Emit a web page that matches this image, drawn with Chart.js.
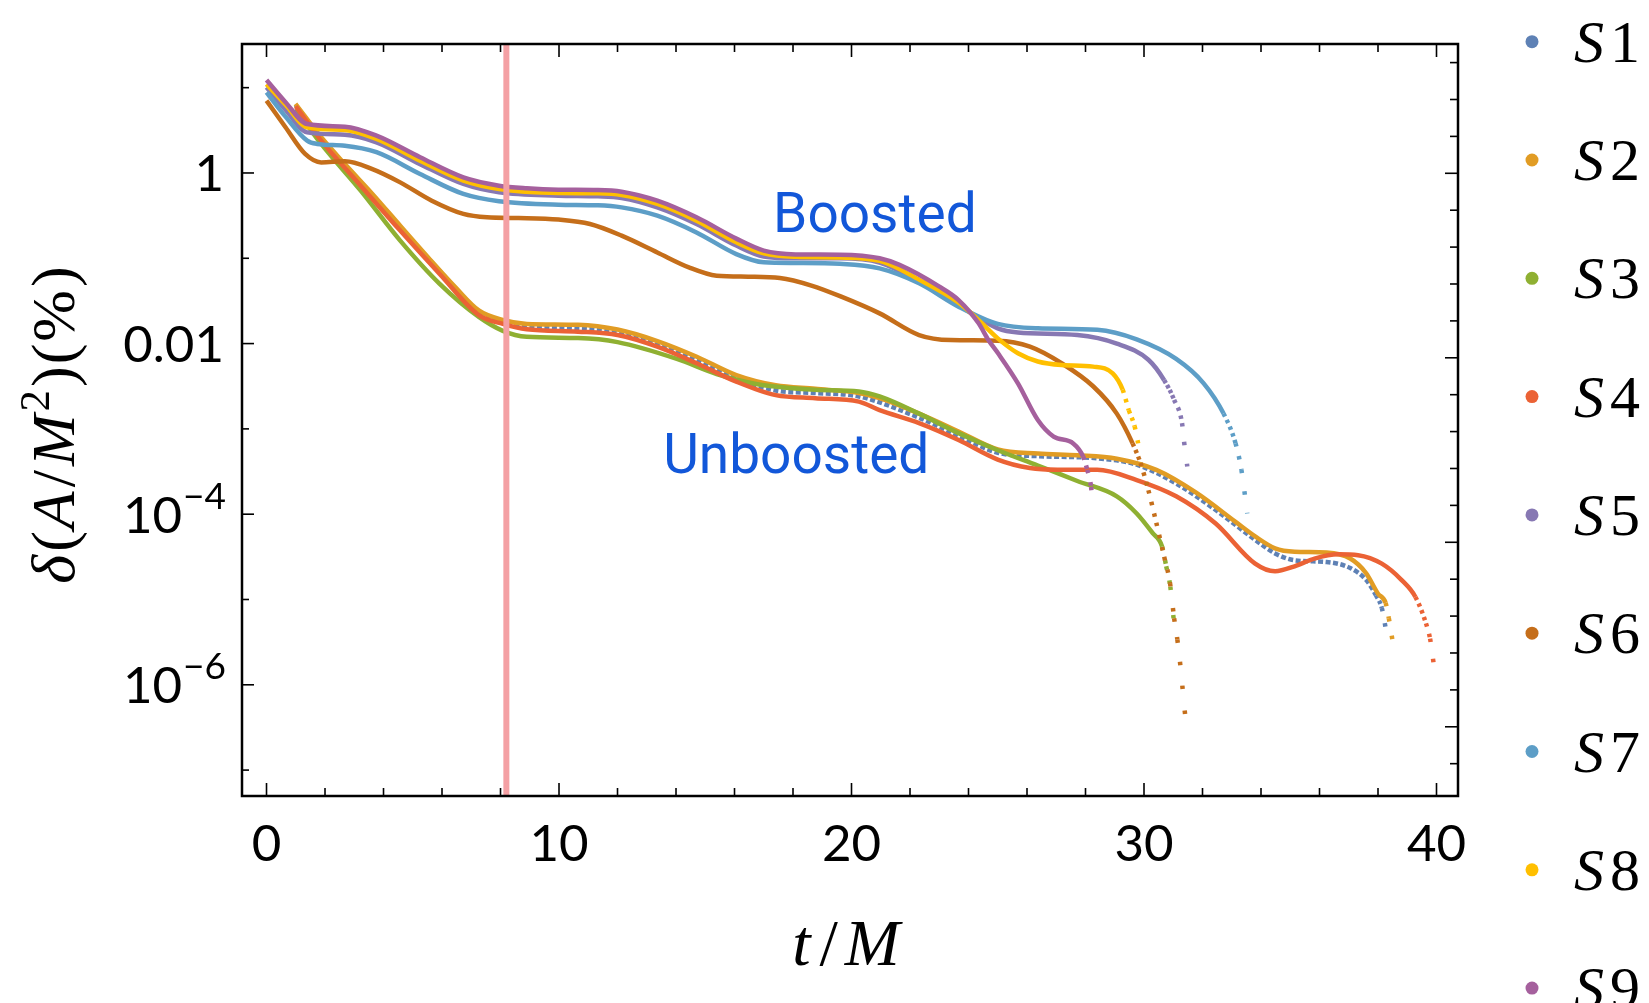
<!DOCTYPE html>
<html>
<head>
<meta charset="utf-8">
<script src="https://cdn.jsdelivr.net/npm/chart.js@4.4.1/dist/chart.umd.min.js"></script>
<style>
  html, body { margin: 0; padding: 0; background: #fff; }
  #wrap { width: 1649px; height: 1003px; }
</style>
</head>
<body>
<div id="wrap"><canvas id="chart" width="1649" height="1003"></canvas></div>
<script>
// series names / colours
const seriesNames = ["S1", "S2", "S3", "S4", "S5", "S6", "S7", "S8", "S9"];
const seriesColors = ["#5E81B5", "#E19C24", "#8FB032", "#EB6235", "#8778B3", "#C56E1A", "#5D9EC7", "#FFBF00", "#A5609D"];

// unboosted
const tS1 = [1.0, 1.87, 3.22, 4.57, 5.92, 7.27, 8.08, 8.9, 10.65, 12.0, 13.36, 14.71, 16.06, 17.41, 18.76, 20.25, 22.31, 23.66, 25.0, 26.37, 28.4, 29.75, 31.1, 32.45, 33.8, 34.48, 35.15, 36.24, 37.05, 37.59, 37.93, 38.13, 38.29];
const vS1 = [6.24, 2.51, 0.759, 0.229, 0.0708, 0.0229, 0.0178, 0.0158, 0.0151, 0.0135, 0.01, 0.00646, 0.00389, 0.00282, 0.00263, 0.0024, 0.00135, 8.32e-4, 5.25e-4, 4.79e-4, 4.52e-4, 3.80e-4, 2.29e-4, 1.12e-4, 5.01e-5, 3.47e-5, 2.88e-5, 2.75e-5, 2.34e-5, 1.70e-5, 1.12e-5, 7.94e-6, 4.07e-6];

const tS2 = [0.99, 1.87, 2.68, 3.62, 4.57, 5.52, 6.46, 7.27, 8.08, 8.9, 10.65, 12.0, 13.36, 14.71, 16.06, 17.41, 18.76, 20.25, 20.96, 22.31, 23.66, 25.0, 26.37, 27.72, 29.07, 30.42, 31.77, 33.13, 33.8, 34.48, 35.15, 36.24, 37.05, 37.59, 38.0, 38.26, 38.37, 38.51];
const vS2 = [6.46, 2.62, 1.27, 0.568, 0.241, 0.103, 0.0457, 0.0243, 0.0189, 0.0170, 0.0166, 0.0146, 0.0107, 0.0070, 0.00427, 0.00324, 0.00295, 0.00263, 0.00229, 0.00151, 9.33e-4, 5.75e-4, 5.13e-4, 4.90e-4, 4.47e-4, 3.31e-4, 1.80e-4, 8.13e-5, 5.50e-5, 3.98e-5, 3.63e-5, 3.55e-5, 3.02e-5, 2.04e-5, 1.17e-5, 9.12e-6, 6.03e-6, 3.09e-6];

const tS3 = [1.0, 1.87, 3.22, 4.57, 5.92, 7.27, 8.08, 8.9, 10.65, 12.0, 14.03, 15.39, 16.74, 18.76, 20.25, 20.96, 22.31, 23.66, 25.0, 26.37, 27.72, 29.07, 29.75, 30.29, 30.62, 30.76, 30.9, 31.02];
const vS3 = [5.62, 2.19, 0.621, 0.161, 0.0501, 0.0204, 0.0141, 0.0120, 0.0116, 0.0104, 0.00661, 0.00440, 0.00336, 0.00288, 0.00275, 0.0024, 0.00151, 8.91e-4, 5.62e-4, 3.72e-4, 2.45e-4, 1.62e-4, 1.02e-4, 6.03e-5, 4.17e-5, 2.45e-5, 1.41e-5, 5.62e-6];

const tS4 = [1.0, 1.87, 3.22, 4.57, 5.92, 7.27, 8.08, 8.9, 10.65, 12.0, 13.36, 14.71, 16.06, 17.41, 18.76, 20.25, 20.96, 22.31, 23.66, 25.0, 26.1, 27.04, 28.4, 29.75, 31.1, 32.45, 33.8, 34.48, 35.15, 35.83, 36.64, 37.32, 38.13, 38.8, 39.28, 39.64, 39.78, 39.91];
const vS4 = [6.03, 2.40, 0.710, 0.211, 0.0655, 0.0214, 0.0170, 0.0147, 0.0138, 0.0126, 0.0092, 0.00587, 0.00358, 0.00249, 0.00229, 0.00209, 0.00166, 0.00117, 7.41e-4, 4.37e-4, 3.47e-4, 3.31e-4, 3.31e-4, 2.51e-4, 1.62e-4, 7.76e-5, 2.63e-5, 2.14e-5, 2.45e-5, 3.02e-5, 3.39e-5, 3.31e-5, 2.63e-5, 1.70e-5, 1.07e-5, 5.25e-6, 3.47e-6, 1.70e-6];

// boosted
const tS5 = [0, 0.65, 1.39, 2.68, 3.76, 5.25, 6.73, 7.95, 9.98, 11.33, 12.14, 13.36, 14.7, 16.06, 17.0, 18.09, 19.6, 20.96, 22.31, 23.66, 25.0, 25.69, 27.72, 29.07, 30.15, 30.69, 31.03, 31.3, 31.37, 31.48];
const vS5 = [10.1, 5.50, 2.99, 2.81, 2.29, 1.27, 0.743, 0.593, 0.542, 0.532, 0.509, 0.395, 0.252, 0.141, 0.105, 0.1, 0.1, 0.0891, 0.0537, 0.0282, 0.0151, 0.0135, 0.0126, 0.01, 0.00646, 0.00372, 0.00219, 0.00117, 7.08e-4, 3.63e-4];

const tS6 = [0, 0.65, 1.32, 1.87, 2.68, 3.62, 4.57, 5.65, 6.73, 7.54, 8.62, 9.98, 11.06, 12.14, 13.36, 14.44, 15.39, 16.47, 17.55, 18.63, 19.65, 20.96, 22.31, 23.39, 25.0, 26.1, 27.18, 28.26, 29.07, 29.61, 29.88, 30.15, 30.42, 30.69, 30.89, 31.03, 31.14, 31.23, 31.31, 31.39, 31.48];
const vS6 = [7.05, 3.43, 1.67, 1.33, 1.37, 1.11, 0.776, 0.473, 0.331, 0.302, 0.296, 0.284, 0.252, 0.184, 0.117, 0.0783, 0.0625, 0.0608, 0.0587, 0.0479, 0.0355, 0.0226, 0.0126, 0.0110, 0.0108, 0.0092, 0.00589, 0.00316, 0.00151, 6.76e-4, 3.98e-4, 1.91e-4, 7.94e-5, 3.16e-5, 1.55e-5, 6.03e-6, 3.39e-6, 1.86e-6, 9.77e-7, 5.01e-7, 2.95e-7];

const tS7 = [0, 0.65, 1.39, 1.73, 2.68, 3.76, 5.25, 6.73, 7.95, 9.98, 11.33, 12.14, 13.36, 14.7, 16.06, 17.0, 18.09, 19.6, 20.96, 22.31, 23.66, 25.0, 26.37, 28.4, 29.75, 31.1, 32.04, 32.72, 33.13, 33.33, 33.53];
const vS7 = [8.81, 4.57, 2.39, 2.19, 2.09, 1.75, 0.973, 0.568, 0.466, 0.425, 0.418, 0.395, 0.316, 0.201, 0.112, 0.0897, 0.0881, 0.0861, 0.0762, 0.0509, 0.0271, 0.0170, 0.0151, 0.0145, 0.0112, 0.00661, 0.00342, 0.00151, 6.76e-4, 3.31e-4, 1.02e-4];

const tS8 = [0, 0.65, 1.39, 2.68, 3.76, 5.25, 6.73, 7.95, 9.98, 11.33, 12.14, 13.36, 14.7, 16.06, 17.0, 18.09, 19.6, 20.96, 22.31, 23.66, 24.34, 25.0, 25.69, 26.37, 27.18, 28.26, 28.93, 29.27, 29.48, 29.68, 29.8];
const vS8 = [11.0, 6.31, 3.43, 3.19, 2.50, 1.39, 0.813, 0.649, 0.582, 0.577, 0.552, 0.433, 0.276, 0.154, 0.114, 0.104, 0.102, 0.0933, 0.0562, 0.0302, 0.0189, 0.0115, 0.00769, 0.00617, 0.00562, 0.00537, 0.00447, 0.00288, 0.00166, 0.00107, 6.76e-4];

const tS9 = [0, 0.65, 1.39, 2.68, 3.76, 5.25, 6.73, 7.95, 8.9, 9.98, 11.33, 12.14, 13.36, 14.7, 16.06, 17.0, 18.09, 19.6, 20.96, 21.64, 22.99, 23.66, 24.34, 24.68, 25.01, 25.69, 26.37, 26.91, 27.58, 27.92, 28.06, 28.19, 28.26];
const vS9 = [12.3, 6.76, 3.75, 3.49, 2.74, 1.53, 0.889, 0.71, 0.661, 0.637, 0.631, 0.603, 0.473, 0.302, 0.17, 0.123, 0.111, 0.110, 0.1, 0.0836, 0.0468, 0.0324, 0.0174, 0.011, 0.00769, 0.00342, 0.00127, 8.13e-4, 6.76e-4, 4.73e-4, 3.31e-4, 2.09e-4, 1.12e-4];

const seriesT = [tS1, tS2, tS3, tS4, tS5, tS6, tS7, tS8, tS9];
const seriesV = [vS1, vS2, vS3, vS4, vS5, vS6, vS7, vS8, vS9];

// vertical marker and the two group labels
const markerT = 8.2;
const yMajor = [1, 0.01, 1e-4, 1e-6];
const yMinor = [10, 0.1, 1e-3, 1e-5, 1e-7];
const yLabels = ["1", "0.01", "10|-4", "10|-6"];
const xTicks = [0, 2, 4, 6, 8, 10, 12, 14, 16, 18, 20, 22, 24, 26, 28, 30, 32, 34, 36, 38, 40];
const groupNotes = [
    { text: "Boosted", t: 17.32, v: 0.203 },
    { text: "Unboosted", t: 13.56, v: 3.07e-4 }
];

const TICK_FONT = "Lato, 'Open Sans', sans-serif";
const SERIF = "'Liberation Serif', 'DejaVu Serif', serif";

const datasets = seriesNames.map((name, i) => ({
    label: name,
    data: seriesT[i].map((t, k) => ({ x: t, y: seriesV[i][k] })),
    borderColor: seriesColors[i],
    backgroundColor: seriesColors[i],
    borderWidth: 4.5,
    borderCapStyle: "butt",
    borderDash: name === "S1" ? [5, 2.5] : [],
    pointRadius: 0,
    cubicInterpolationMode: "monotone",
    order: 10 - i,
    segment: {
        // sparse-looking dotted tails where the curves plunge
        borderDash: ctx => {
            const dx = Math.abs(ctx.p1.x - ctx.p0.x);
            const dy = Math.abs(ctx.p1.y - ctx.p0.y);
            const s = dy / Math.max(dx, 0.01);
            return s > 1.9 ? [3.5, Math.max(2, 2.9 * s - 3.5)] : undefined;
        }
    }
}));

datasets.push({
    label: "marker",
    data: [{ x: markerT, y: 1e-9 }, { x: markerT, y: 1e3 }],
    borderColor: "#F4A0A4",
    borderWidth: 6,
    pointRadius: 0,
    order: 0
});

const framePlugin = {
    id: "framePlugin",
    afterDraw(chart) {
        const { ctx, chartArea: a } = chart;
        const xs = chart.scales.x, ys = chart.scales.y, yr = chart.scales.yRight;
        ctx.save();

        // inward frame ticks
        ctx.strokeStyle = "#000";
        ctx.lineWidth = 1.6;
        const seg = (x0, y0, x1, y1) => { ctx.beginPath(); ctx.moveTo(x0, y0); ctx.lineTo(x1, y1); ctx.stroke(); };
        xs.ticks.forEach(tk => {
            const px = xs.getPixelForValue(tk.value);
            const len = tk.value % 10 === 0 ? 13 : 8;
            seg(px, a.bottom, px, a.bottom - len);
            seg(px, a.top, px, a.top + len);
        });
        yMajor.forEach(v => { const py = ys.getPixelForValue(v); seg(a.left, py, a.left + 12, py); });
        yMinor.forEach(v => { const py = ys.getPixelForValue(v); seg(a.left, py, a.left + 7, py); });
        yr.ticks.forEach(tk => {
            const py = yr.getPixelForValue(tk.value);
            if (py < a.top + 2 || py > a.bottom - 2) return;
            const len = tk.value % 5 === 0 ? 13 : 8;
            seg(a.right, py, a.right - len, py);
        });

        ctx.lineWidth = 2.5;
        ctx.strokeRect(a.left, a.top, a.right - a.left, a.bottom - a.top);

        // y tick labels with superscripts
        ctx.fillStyle = "#000";
        ctx.textBaseline = "alphabetic";
        ctx.textAlign = "right";
        yMajor.forEach((v, i) => {
            const py = ys.getPixelForValue(v);
            const parts = yLabels[i].split("|");
            const right = a.left - 16;
            if (parts.length === 1) {
                ctx.font = "51px " + TICK_FONT;
                ctx.fillText(parts[0], right - 2, py + 18.5);
            } else {
                ctx.font = "37px " + TICK_FONT;
                const supText = "\u2212" + parts[1].replace("-", "");
                const supW = ctx.measureText(supText).width;
                ctx.fillText(supText, right, py + 18.5 - 24);
                ctx.font = "51px " + TICK_FONT;
                ctx.fillText(parts[0], right - supW - 1, py + 18.5);
            }
        });

        // group notes
        ctx.textAlign = "left";
        ctx.fillStyle = "#1257D9";
        ctx.font = "55px Roboto, 'Noto Sans', sans-serif";
        groupNotes.forEach(n => {
            ctx.fillText(n.text, xs.getPixelForValue(n.t), ys.getPixelForValue(n.v));
        });

        // axis titles
        ctx.fillStyle = "#000";
        const drawRuns = (runs, cx, baseY) => {
            let total = 0;
            runs.forEach(r => { ctx.font = r.font; r.w = ctx.measureText(r.s).width + (r.gap || 0); total += r.w; });
            let x = cx - total / 2;
            runs.forEach(r => { ctx.font = r.font; ctx.fillText(r.s, x, baseY - (r.up || 0)); x += r.w; });
        };
        const it = sz => "italic " + sz + "px " + SERIF;
        const rm = sz => sz + "px " + SERIF;
        ctx.textAlign = "left";
        drawRuns([
            { s: "t", font: it(66), gap: 9 },
            { s: "/", font: rm(66), gap: 7 },
            { s: "M", font: it(66) }
        ], 846, 965);

        ctx.save();
        ctx.translate(74, 425);
        ctx.rotate(-Math.PI / 2);
        drawRuns([
            { s: "\u03B4", font: it(62), gap: 3 },
            { s: "(", font: rm(62), gap: 2 },
            { s: "A", font: it(62), gap: 4 },
            { s: "/", font: rm(62), gap: 4 },
            { s: "M", font: it(62), gap: 3 },
            { s: "2", font: rm(43), up: 25, gap: 3 },
            { s: ")", font: rm(62), gap: 2 },
            { s: "(", font: rm(62), gap: 2 },
            { s: "%", font: rm(62), gap: 3 },
            { s: ")", font: rm(62) }
        ], 0, 0);
        ctx.restore();

        // legend column
        chart.data.datasets.forEach((ds, i) => {
            if (ds.label === "marker") return;
            const cy = 41.7 + i * 118.3;
            ctx.fillStyle = ds.borderColor;
            ctx.beginPath();
            ctx.arc(1532, cy, 6.5, 0, Math.PI * 2);
            ctx.fill();
            ctx.fillStyle = "#000";
            ctx.font = it(60);
            ctx.textAlign = "left";
            ctx.fillText(ds.label.charAt(0), 1574, cy + 20);
            const sw = ctx.measureText(ds.label.charAt(0)).width;
            ctx.font = rm(60);
            ctx.fillText(ds.label.slice(1), 1574 + sw + 6, cy + 20);
        });
        ctx.restore();
    }
};

new Chart(document.getElementById("chart"), {
    type: "line",
    data: { datasets },
    options: {
        responsive: false,
        animation: false,
        devicePixelRatio: 1,
        layout: { padding: { left: 0, right: 191, top: 44, bottom: 0 } },
        plugins: { legend: { display: false }, tooltip: { enabled: false } },
        scales: {
            x: {
                type: "linear",
                min: -0.838,
                max: 40.735,
                afterBuildTicks: s => { s.ticks = xTicks.map(v => ({ value: v })); },
                afterFit: s => { s.height = 207; },
                grid: { display: false, drawTicks: false },
                border: { display: false },
                ticks: {
                    padding: 18,
                    color: "#000",
                    font: { family: TICK_FONT, size: 51 },
                    maxRotation: 0,
                    autoSkip: false,
                    callback: v => (v % 10 === 0 ? String(v) : "")
                }
            },
            y: {
                type: "logarithmic",
                min: 4.97e-8,
                max: 32.5,
                afterFit: s => { s.width = 242; },
                grid: { display: false, drawTicks: false },
                border: { display: false },
                ticks: { display: false }
            },
            yRight: {
                type: "linear",
                position: "right",
                min: -16.876,
                max: 3.504,
                afterBuildTicks: s => {
                    const t = [];
                    for (let v = -16; v <= 3; v++) t.push({ value: v });
                    s.ticks = t;
                },
                afterFit: s => { s.width = 0; },
                grid: { display: false, drawTicks: false },
                border: { display: false },
                ticks: { display: false }
            }
        }
    },
    plugins: [framePlugin]
});
</script>
</body>
</html>
